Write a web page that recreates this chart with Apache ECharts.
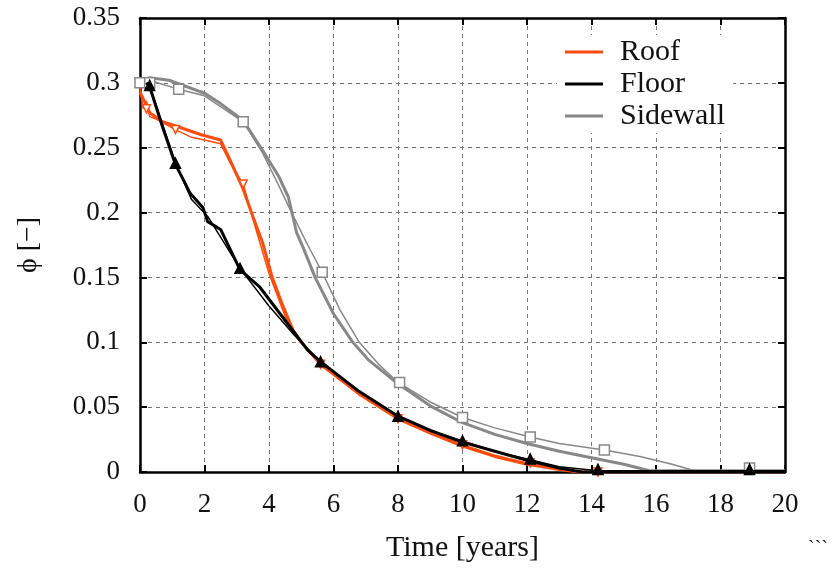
<!DOCTYPE html>
<html>
<head>
<meta charset="utf-8">
<script src="https://cdn.jsdelivr.net/npm/echarts@6/dist/echarts.min.js"></script>
<style>
  html, body { margin: 0; padding: 0; background: #fff; }
  #chart { width: 835px; height: 569px; }
</style>
</head>
<body>
<div id="chart"></div>
<script>
// Roof (orange): thick curve and thin curve with markers
const roofThick = [[0, 0.293], [0.3, 0.277], [0.7, 0.27], [1.2, 0.266], [1.9, 0.26], [2.5, 0.256], [2.8, 0.24],
  [3.2, 0.218], [3.5, 0.197], [3.8, 0.177], [4.1, 0.15], [4.4, 0.13], [4.75, 0.109], [5.0, 0.1], [5.6, 0.083],
  [6.8, 0.06], [8, 0.041], [9, 0.03], [10, 0.02], [11, 0.012], [12, 0.006], [13, 0.002], [13.6, 0], [20, 0]]
const roofThin = [[0, 0.296], [0.1, 0.28], [0.2, 0.286], [0.3, 0.274], [0.5, 0.272], [1.1, 0.264], [1.6, 0.258],
  [2.0, 0.256], [2.5, 0.253], [2.8, 0.238], [3.2, 0.222], [3.5, 0.195], [4.0, 0.153], [4.5, 0.12], [5.0, 0.1],
  [5.6, 0.083], [6.8, 0.06], [8, 0.041], [9, 0.031], [10, 0.021], [11, 0.013], [12, 0.007], [13, 0.002], [13.7, 0], [20, 0]]
const roofMarks = [[0.2, 0.28], [1.1, 0.264], [3.2, 0.222], [5.6, 0.083], [8, 0.041], [10, 0.021], [12.1, 0.007], [14.2, 0]]

// Floor (black)
const floorThick = [[0.2, 0.3], [0.3, 0.297], [0.7, 0.266], [1.1, 0.237], [1.35, 0.225], [1.55, 0.215], [1.95, 0.204],
  [2.1, 0.193], [2.5, 0.187], [3.1, 0.156], [3.7, 0.143], [4.65, 0.112], [5.2, 0.094], [5.6, 0.085], [6.8, 0.062],
  [8, 0.043], [9, 0.032], [10, 0.023], [11, 0.016], [12, 0.009], [13, 0.003], [13.7, 0], [20, 0]]
const floorThin = [[0.2, 0.3], [0.3, 0.298], [1.1, 0.238], [1.6, 0.21], [2.1, 0.197], [3.1, 0.157], [4.0, 0.128],
  [4.8, 0.105], [5.6, 0.085], [6.8, 0.062], [8, 0.043], [9, 0.032], [10, 0.024], [11, 0.016], [12, 0.01], [13, 0.004],
  [14.2, 0.001], [20, 0.001]]
const floorMarks = [[0.3, 0.298], [1.1, 0.238], [3.1, 0.157], [5.6, 0.085], [8, 0.043], [10, 0.024], [12.1, 0.01], [14.2, 0.002], [18.9, 0.002]]

// Sidewall (gray)
const sideThick = [[0, 0.3], [0.3, 0.304], [0.9, 0.302], [2.0, 0.292], [2.5, 0.284], [3.2, 0.271], [3.8, 0.248],
  [4.3, 0.228], [4.6, 0.212], [4.85, 0.185], [5.06, 0.173], [5.43, 0.15], [6.0, 0.122], [6.6, 0.1], [7.1, 0.086],
  [8, 0.068], [9, 0.051], [10, 0.038], [11, 0.029], [12, 0.022], [13, 0.016], [14, 0.011], [15, 0.006], [15.8, 0.001], [20, 0.001]]
const sideThin = [[0, 0.3], [0.3, 0.302], [1.2, 0.295], [2.0, 0.29], [3.2, 0.27], [3.8, 0.246], [4.3, 0.221],
  [4.7, 0.2], [5.2, 0.175], [5.65, 0.154], [6.2, 0.125], [6.8, 0.1], [7.4, 0.083], [8, 0.069], [9, 0.054], [10, 0.042],
  [11, 0.034], [12.1, 0.027], [13, 0.022], [14.4, 0.017], [15.5, 0.012], [16.5, 0.006], [17.2, 0.001], [20, 0.001]]
const sideMarks = [[0, 0.3], [0.3, 0.3], [1.2, 0.295], [3.2, 0.27], [5.65, 0.154], [8.05, 0.069], [10, 0.042], [12.1, 0.027], [14.4, 0.017], [18.9, 0.003]]

const xTicks = [0, 20, 2]
const yTicks = [0, 0.35, 0.05]

const ORANGE = '#ff4d0d'
const BLACK = '#000'
const GRAY = '#888'
const FONT = 'Liberation Serif'

const chart = echarts.init(document.getElementById('chart'))

const gridLine = { show: true, lineStyle: { color: '#777', type: [4, 4], width: 1 } }
const frame = { show: true, onZero: false, lineStyle: { color: '#000', width: 2.5 } }
const tick = { show: true, inside: true, length: 7, lineStyle: { color: '#000', width: 2 } }

const lineSeries = (name, data, color, width, z) => ({
  name, type: 'line', data, symbol: 'none', smooth: false, z,
  lineStyle: { color, width }, itemStyle: { color }
})
const markSeries = (name, data, symbol, size, fill, border, z) => ({
  name, type: 'scatter', data, symbol, symbolSize: size, z,
  itemStyle: { color: fill, borderColor: border, borderWidth: 1.5, opacity: 1 }
})

chart.setOption({
  animation: false,
  backgroundColor: '#fff',
  textStyle: { fontFamily: FONT },
  grid: { left: 140, right: 50, top: 18, bottom: 97 },
  legend: {
    data: ['Roof', 'Floor', 'Sidewall'],
    orient: 'vertical',
    left: 557,
    top: 35,
    backgroundColor: '#fff',
    padding: [2, 8, 2, 8],
    icon: 'rect',
    itemWidth: 38,
    itemHeight: 3,
    itemGap: 2,
    textStyle: { fontFamily: FONT, fontSize: 30, color: '#111', padding: [0, 0, 0, 12] }
  },
  xAxis: [
    {
      type: 'value', min: xTicks[0], max: xTicks[1], interval: xTicks[2],
      name: 'Time [years]', nameLocation: 'middle', nameGap: 61,
      nameTextStyle: { fontFamily: FONT, fontSize: 30, color: '#111' },
      axisLine: frame, axisTick: tick, splitLine: gridLine,
      axisLabel: { fontFamily: FONT, fontSize: 27, color: '#111', margin: 19 }
    },
    {
      type: 'value', position: 'top', min: xTicks[0], max: xTicks[1], interval: xTicks[2],
      axisLine: frame, axisTick: tick, splitLine: { show: false }, axisLabel: { show: false }
    }
  ],
  yAxis: [
    {
      type: 'value', min: yTicks[0], max: yTicks[1], interval: yTicks[2],
      name: 'ϕ [−]', nameLocation: 'middle', nameGap: 97, nameRotate: 90,
      nameTextStyle: { fontFamily: FONT, fontSize: 28, color: '#111' },
      axisLine: frame, axisTick: tick, splitLine: gridLine,
      axisLabel: { fontFamily: FONT, fontSize: 27, color: '#111', margin: 20, formatter: v => String(+v.toFixed(2)) }
    },
    {
      type: 'value', position: 'right', min: yTicks[0], max: yTicks[1], interval: yTicks[2],
      axisLine: frame, axisTick: tick, splitLine: { show: false }, axisLabel: { show: false }
    }
  ],
  graphic: [
    { type: 'text', left: 808, top: 540, style: { text: '```', font: '20px ' + FONT, fill: '#111' } }
  ],
  series: [
    lineSeries('Sidewall', sideThick, GRAY, 3, 2),
    lineSeries('Sidewall (thin)', sideThin, GRAY, 1.5, 2),
    markSeries('Sidewall marks', sideMarks, 'rect', 10, '#fff', GRAY, 3),
    lineSeries('Roof', roofThick, ORANGE, 3, 4),
    lineSeries('Roof (thin)', roofThin, ORANGE, 1.5, 4),
    markSeries('Roof marks', roofMarks, 'path://M0,0 L10,0 L5,9 Z', 8, '#fff', ORANGE, 5),
    lineSeries('Floor', floorThick, BLACK, 3, 6),
    lineSeries('Floor (thin)', floorThin, BLACK, 1.5, 6),
    markSeries('Floor marks', floorMarks, 'triangle', 10, BLACK, BLACK, 7)
  ]
})
</script>
</body>
</html>
